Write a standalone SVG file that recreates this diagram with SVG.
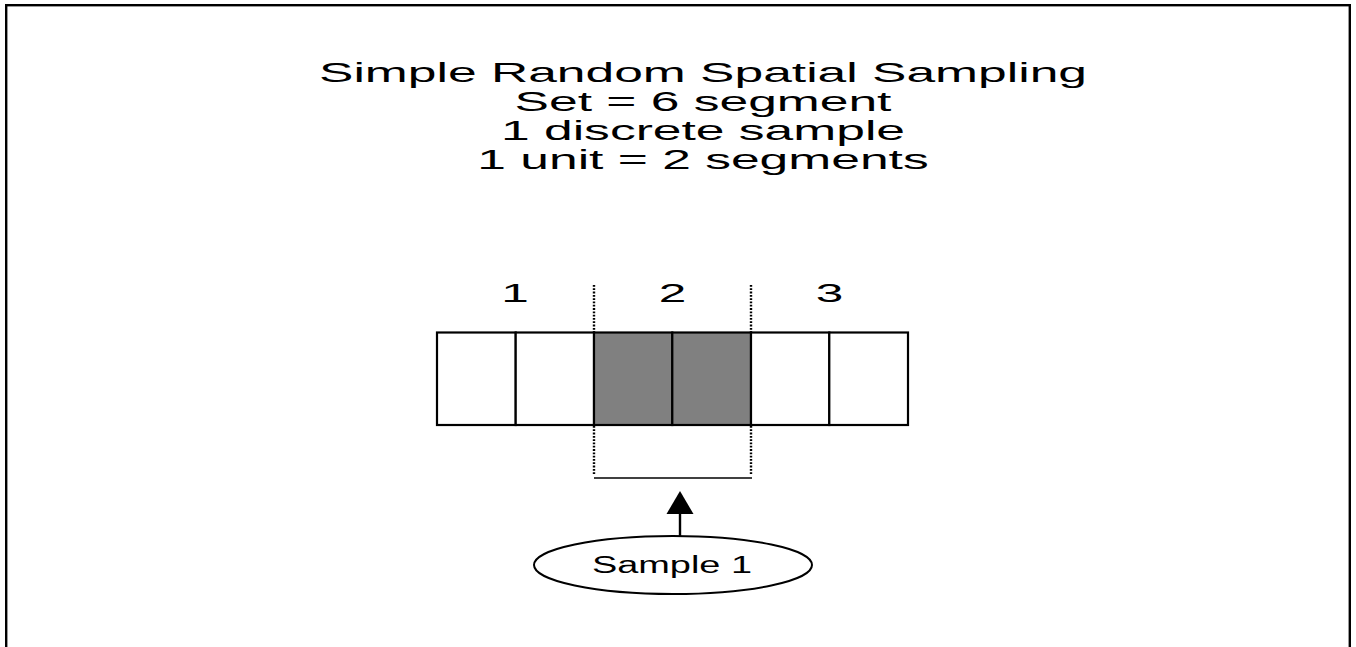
<svg xmlns="http://www.w3.org/2000/svg" width="1356" height="647" viewBox="0 0 1356 647">
  <style>
    .t { font-family: "Liberation Sans", Arial, sans-serif; fill: #000; }
    .title { font-size: 27.5px; }
    .num { font-size: 26.5px; }
    .lbl { font-size: 24px; }
    .seg { stroke: #000; stroke-width: 2.2; }
    .dot { stroke: #000; stroke-width: 2.4; stroke-dasharray: 1.8 1.5; fill: none; }
  </style>
  <rect width="1356" height="647" fill="#fff"/>
  <rect id="frame" x="6.2" y="5.2" width="1343.6" height="660" fill="none" stroke="#000" stroke-width="2.4"/>

  <g id="title" class="t title" text-anchor="middle">
    <text transform="translate(703,82) scale(1.875,1)">Simple Random Spatial Sampling</text>
    <text transform="translate(703,111) scale(1.875,1)">Set = 6 segment</text>
    <text transform="translate(703,140) scale(1.875,1)">1 discrete sample</text>
    <text transform="translate(703,169) scale(1.875,1)">1 unit = 2 segments</text>
  </g>

  <g id="unit-labels" class="t num" text-anchor="middle">
    <text transform="translate(515,302) scale(1.87,1)">1</text>
    <text transform="translate(672.5,302) scale(1.87,1)">2</text>
    <text transform="translate(829.5,302) scale(1.87,1)">3</text>
  </g>

  <g id="segments">
    <rect id="seg1" class="seg" x="437" y="332.5" width="78.7" height="92.5" fill="#fff"/>
    <rect id="seg2" class="seg" x="515.7" y="332.5" width="78.3" height="92.5" fill="#fff"/>
    <rect id="seg3" class="seg" x="594" y="332.5" width="78.3" height="92.5" fill="#808080"/>
    <rect id="seg4" class="seg" x="672.3" y="332.5" width="78.7" height="92.5" fill="#808080"/>
    <rect id="seg5" class="seg" x="751" y="332.5" width="78.3" height="92.5" fill="#fff"/>
    <rect id="seg6" class="seg" x="829.3" y="332.5" width="78.7" height="92.5" fill="#fff"/>
  </g>

  <g id="sample1">
    <ellipse cx="673" cy="565" rx="139" ry="29" fill="#fff" stroke="#000" stroke-width="2"/>
    <text class="t lbl" text-anchor="middle" transform="translate(672,573) scale(1.58,1)">Sample 1</text>
  </g>

  <g id="connectors">
    <line class="dot" x1="594" y1="285" x2="594" y2="332"/>
    <line class="dot" x1="751" y1="285" x2="751" y2="332"/>
    <line class="dot" x1="594" y1="426" x2="594" y2="474"/>
    <line class="dot" x1="751" y1="426" x2="751" y2="474"/>
    <line x1="594" y1="478" x2="752" y2="478" stroke="#000" stroke-width="1.6"/>
    <line x1="680" y1="536" x2="680" y2="513" stroke="#000" stroke-width="2.4"/>
    <polygon points="680,491 666.5,514 693.5,514" fill="#000"/>
  </g>
</svg>
